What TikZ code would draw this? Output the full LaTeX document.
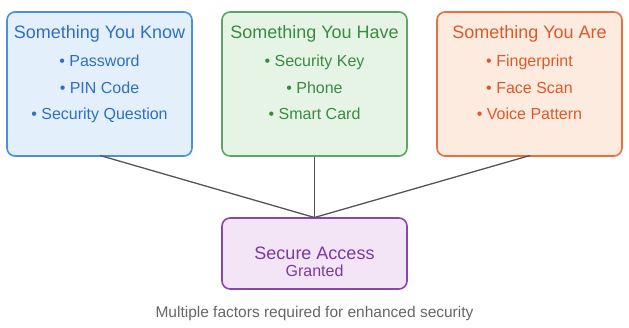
\documentclass[tikz,border=0pt]{standalone}
\usepackage{fontspec}
\setmainfont{Liberation Sans}
\begin{document}
\begin{tikzpicture}[x=1pt,y=-1pt,
  factor/.style={draw, line width=1.6pt, rounded corners=8pt, minimum width=185pt, minimum height=144pt, inner sep=0pt},
  title/.style={font=\fontsize{18}{18}\selectfont, inner sep=0pt, anchor=base},
  item/.style={font=\fontsize{16}{16}\selectfont, inner sep=0pt, anchor=base},
  link/.style={draw=linkgray, line width=1.3pt}
]
\definecolor{bluefill}{HTML}{E3F0FC}
\definecolor{blueline}{HTML}{4A8FDB}
\definecolor{bluetext}{HTML}{2F6FC0}
\definecolor{greenfill}{HTML}{E6F4E6}
\definecolor{greenline}{HTML}{5AA860}
\definecolor{greentext}{HTML}{3A8A40}
\definecolor{orangefill}{HTML}{FDEBDF}
\definecolor{orangeline}{HTML}{E8703E}
\definecolor{orangetext}{HTML}{DB5A2A}
\definecolor{purplefill}{HTML}{F3E4F6}
\definecolor{purpleline}{HTML}{8E44AD}
\definecolor{purpletext}{HTML}{7B3A9E}
\definecolor{linkgray}{HTML}{555555}
\definecolor{captiongray}{HTML}{666666}
\useasboundingbox (0,0) rectangle (629,328);

\node[factor, draw=blueline, fill=bluefill] (know) at (99.5,84) {};
\node[factor, draw=greenline, fill=greenfill] (have) at (314.5,84) {};
\node[factor, draw=orangeline, fill=orangefill] (are) at (529.5,84) {};
\node[draw=purpleline, fill=purplefill, line width=1.6pt, rounded corners=8pt, minimum width=185pt, minimum height=71pt, inner sep=0pt] (access) at (314.5,253.5) {};

\coordinate (knowend) at (100,155.5);
\coordinate (areend) at (530,155.5);
\coordinate (meet) at (314.5,217.5);
\draw[link] (knowend) -- (meet);
\draw[link] (have.south) -- (meet);
\draw[link] (areend) -- (meet);

\node[title, text=bluetext] (t1) at (99.5,39) {Something You Know};
\node[item, text=bluetext] (k1) at (99.5,67) {• Password};
\node[item, text=bluetext] (k2) at (99.5,93.5) {• PIN Code};
\node[item, text=bluetext] (k3) at (99.5,120) {• Security Question};

\node[title, text=greentext] (t2) at (314.5,39) {Something You Have};
\node[item, text=greentext] (h1) at (314.5,67) {• Security Key};
\node[item, text=greentext] (h2) at (314.5,93.5) {• Phone};
\node[item, text=greentext] (h3) at (314.5,120) {• Smart Card};

\node[title, text=orangetext] (t3) at (529.5,39) {Something You Are};
\node[item, text=orangetext] (a1) at (529.5,67) {• Fingerprint};
\node[item, text=orangetext] (a2) at (529.5,93.5) {• Face Scan};
\node[item, text=orangetext] (a3) at (529.5,120) {• Voice Pattern};

\node[title, text=purpletext] (s1) at (314.5,260) {Secure Access};
\node[item, text=purpletext] (s2) at (314.5,277) {Granted};

\node[item, font=\fontsize{15.5}{15.5}\selectfont, text=captiongray] (cap) at (314.5,318) {Multiple factors required for enhanced security};
\end{tikzpicture}
\end{document}
